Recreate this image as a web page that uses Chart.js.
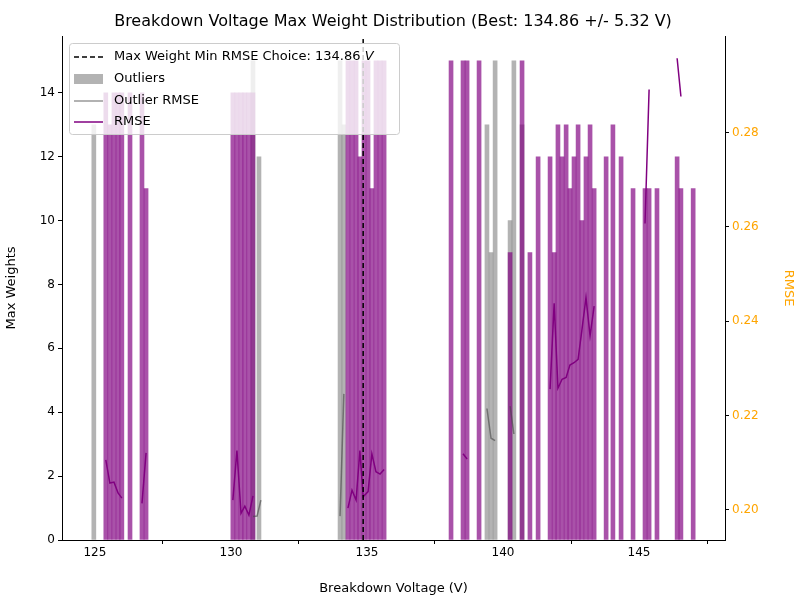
<!DOCTYPE html>
<html>
<head>
<meta charset="utf-8">
<script src="https://cdn.jsdelivr.net/npm/chart.js@4.4.0/dist/chart.umd.min.js"></script>
<style>body{margin:0;background:#fff}</style>
</head>
<body>
<canvas id="grafico" width="800" height="600"></canvas>
<script>
// Dados
const voltsRMSE = [125.40, 125.55, 125.70, 125.85, 125.99, 126.29, 126.73, 126.88,
  130.07, 130.22, 130.37, 130.51, 130.66, 130.81,
  134.30, 134.45, 134.60, 134.74, 134.89, 135.04, 135.18, 135.33, 135.48, 135.63,
  138.09, 138.53, 138.68, 139.12, 140.26, 140.70, 140.99, 141.29,
  141.73, 141.88, 142.02, 142.17, 142.32, 142.46, 142.61, 142.76, 142.90, 143.05, 143.20, 143.35,
  143.79, 144.04, 144.34, 144.78, 145.22, 145.37, 145.66, 146.40, 146.54, 146.99];
const pesosRMSE = [14, 13, 14, 14, 14, 14, 14, 11,
  14, 14, 14, 14, 14, 14,
  15, 15, 15, 12, 15, 15, 11, 15, 15, 15,
  15, 15, 15, 15, 9, 15, 9, 12,
  12, 9, 13, 12, 13, 11, 12, 13, 10, 12, 13, 11,
  12, 13, 12, 11, 11, 11, 11, 12, 11, 11];
const voltsOutliers = [124.96, 130.81, 131.03, 134.01, 134.15, 139.41, 139.56, 139.71, 140.26, 140.40, 140.70];
const pesosOutliers = [13, 15, 12, 15, 13, 13, 9, 15, 10, 15, 13];

// Curvas de RMSE (null = interrupção)
const linhaX = [125.40, 125.55, 125.70, 125.85, 125.99, 126.3, 126.73, 126.88, 127.0,
  130.07, 130.22, 130.37, 130.51, 130.66, 130.81, 131.0,
  134.30, 134.45, 134.60, 134.74, 134.86, 135.04, 135.18, 135.33, 135.48, 135.63, 136.0,
  138.53, 138.68, 139.0,
  141.73, 141.88, 142.02, 142.17, 142.32, 142.46, 142.61, 142.76, 142.90, 143.05, 143.20, 143.35, 143.5,
  145.22, 145.37, 145.5,
  146.40, 146.54];
const linhaY = [0.2106, 0.2057, 0.2059, 0.2036, 0.2025, null, 0.2014, 0.2121, null,
  0.2021, 0.2126, 0.1993, 0.2008, 0.1989, 0.2030, null,
  0.2004, 0.2042, 0.2021, 0.2126, 0.2028, 0.2039, 0.2119, 0.2081, 0.2076, 0.2086, null,
  0.2119, 0.2108, null,
  0.2256, 0.2438, 0.2258, 0.2277, 0.2281, 0.2307, 0.2312, 0.2319, 0.2381, 0.2450, 0.2369, 0.2432, null,
  0.2607, 0.2891, null,
  0.2957, 0.2876];
const outlierX = [130.81, 130.96, 131.10, 131.5, 134.01, 134.15, 134.5, 139.41, 139.56, 139.71, 140.0, 140.26, 140.40];
const outlierY = [0.1986, 0.1987, 0.2021, null, 0.1987, 0.2246, null, 0.2215, 0.2152, 0.2147, null, 0.2220, 0.2161];

const escolha = 134.86;
const xTicks = [125, 130, 135, 140, 145];

const pontos = (xs, ys) => xs.map((x, i) => ({ x: x, y: ys[i] }));
const FONTE = '"DejaVu Sans", sans-serif';
const roxoBarra = 'rgba(128, 0, 128, 0.68)';
const cinzaBarra = 'rgba(128, 128, 128, 0.6)';
const cinzaLinha = 'rgba(70, 70, 70, 0.6)';

const soMultiplos = passo => scale => {
  scale.ticks = scale.ticks.filter(t => Math.abs(t.value / passo - Math.round(t.value / passo)) < 1e-6);
};

const legendaPropria = {
  id: 'legendaPropria',
  afterDraw(chart) {
    const c = chart.ctx;
    c.save();
    // título
    c.fillStyle = '#000';
    c.font = '16px ' + FONTE;
    c.textAlign = 'center';
    c.textBaseline = 'middle';
    c.fillText('Breakdown Voltage Max Weight Distribution (Best: 134.86 +/- 5.32 V)', 393, 22);
    // caixa
    const bx = 69, by = 43, bw = 330, bh = 91;
    c.fillStyle = 'rgba(255,255,255,0.8)';
    c.strokeStyle = '#cccccc';
    c.lineWidth = 1;
    c.beginPath();
    c.roundRect(bx + 0.5, by + 0.5, bw, bh, 3);
    c.fill();
    c.stroke();
    c.font = '13px ' + FONTE;
    c.textAlign = 'left';
    const linhas = [57, 79, 101, 122];
    // linha tracejada
    c.setLineDash([5, 3]);
    c.strokeStyle = '#000'; c.lineWidth = 1.5;
    c.beginPath(); c.moveTo(74, linhas[0]); c.lineTo(103, linhas[0]); c.stroke();
    c.setLineDash([]);
    c.fillStyle = cinzaBarra;
    c.fillRect(74, linhas[1] - 5, 29, 10);
    c.strokeStyle = 'rgba(128,128,128,0.8)';
    c.beginPath(); c.moveTo(74, linhas[2]); c.lineTo(103, linhas[2]); c.stroke();
    c.strokeStyle = 'purple';
    c.beginPath(); c.moveTo(74, linhas[3]); c.lineTo(103, linhas[3]); c.stroke();
    c.fillStyle = '#000';
    const t0 = 'Max Weight Min RMSE Choice: 134.86 ';
    c.fillText(t0, 114, linhas[0]);
    const w0 = c.measureText(t0).width;
    c.font = 'italic 13px ' + FONTE;
    c.fillText('V', 114 + w0, linhas[0]);
    c.font = '13px ' + FONTE;
    c.fillText('Outliers', 114, linhas[1]);
    c.fillText('Outlier RMSE', 114, linhas[2]);
    c.fillText('RMSE', 114, linhas[3]);
    c.restore();
  }
};

const ctx = document.getElementById('grafico').getContext('2d');
const grafico = new Chart(ctx, {
  data: {
    datasets: [
      { type: 'bar', data: pontos(voltsOutliers, pesosOutliers), backgroundColor: cinzaBarra,
        barThickness: 4, grouped: false, yAxisID: 'y', order: 3 },
      { type: 'bar', data: pontos(voltsRMSE, pesosRMSE), backgroundColor: roxoBarra,
        barThickness: 4, grouped: false, yAxisID: 'y', order: 2 },
      { type: 'line', data: pontos(outlierX, outlierY), borderColor: cinzaLinha, borderWidth: 1.5,
        pointRadius: 0, spanGaps: false, yAxisID: 'y2', order: 1 },
      { type: 'line', data: pontos(linhaX, linhaY), borderColor: 'purple', borderWidth: 1.5,
        pointRadius: 0, spanGaps: false, yAxisID: 'y2', order: 1 },
      { type: 'line', data: [{ x: escolha, y: 0 }, { x: escolha, y: 15.78 }], borderColor: '#000',
        borderWidth: 1.5, borderDash: [5, 3], pointRadius: 0, yAxisID: 'y', order: 0 }
    ]
  },
  options: {
    responsive: false,
    animation: false,
    layout: { padding: { top: 36, right: 0, left: 0, bottom: 0 } },
    plugins: { legend: { display: false }, tooltip: { enabled: false } },
    scales: {
      x: {
        type: 'linear', min: 123.79, max: 148.16, offset: false,
        afterBuildTicks: scale => { scale.ticks = xTicks.map(v => ({ value: v })); },
        afterFit: s => { s.height = 60; },
        ticks: { color: '#000', font: { family: FONTE, size: 12 }, padding: 2 },
        grid: { drawOnChartArea: false, color: '#000', tickLength: 4 },
        border: { color: '#000' },
        title: { display: true, text: 'Breakdown Voltage (V)', color: '#000', font: { family: FONTE, size: 13 }, padding: { top: 4 } }
      },
      y: {
        position: 'left', min: 0, max: 15.78,
        afterBuildTicks: soMultiplos(2),
        afterFit: s => { s.width = 62; },
        ticks: { stepSize: 2, color: '#000', font: { family: FONTE, size: 12 }, padding: 3 },
        grid: { drawOnChartArea: false, color: '#000', tickLength: 4 },
        border: { color: '#000' },
        title: { display: true, text: 'Max Weights', color: '#000', font: { family: FONTE, size: 13 }, padding: { bottom: 4 } }
      },
      y2: {
        position: 'right', min: 0.19364, max: 0.30042,
        afterBuildTicks: soMultiplos(0.02),
        afterFit: s => { s.width = 75; },
        ticks: { stepSize: 0.02, color: 'orange', font: { family: FONTE, size: 12 }, padding: 3,
          callback: v => v.toFixed(2) },
        grid: { drawOnChartArea: false, color: '#000', tickLength: 4 },
        border: { color: '#000' },
        title: { display: true, text: 'RMSE', color: 'orange', font: { family: FONTE, size: 13 } }
      }
    }
  },
  plugins: [legendaPropria]
});
</script>
</body>
</html>
